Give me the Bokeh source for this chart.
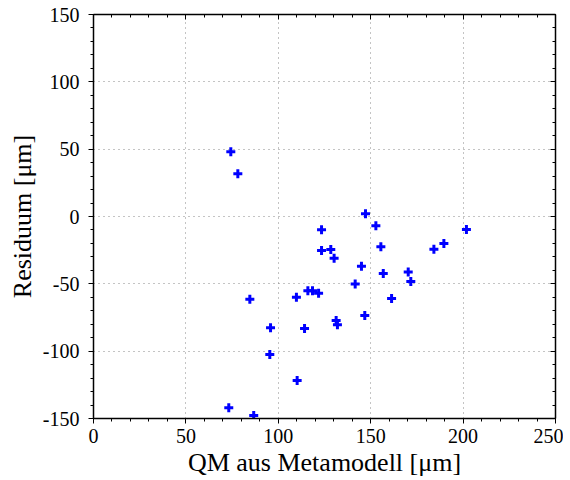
from bokeh.plotting import figure
from bokeh.models import LinearAxis, Range1d, FixedTicker, CustomJSTickFormatter
from bokeh.embed import file_html
from bokeh.resources import INLINE

# Data
x_vals = [74.3, 78.1, 147.2, 152.8, 123.4, 201.8, 189.6, 184.2, 155.5, 123.4,
          128.4, 130.2, 145.0, 156.8, 170.3, 171.7, 141.6, 84.6, 109.8, 116.0,
          118.5, 121.8, 161.3, 146.8, 131.3, 132.0, 95.8, 114.2, 95.4, 110.2,
          73.2, 86.7]
y_vals = [48.0, 31.7, 2.0, -6.9, -9.9, -9.7, -20.0, -24.3, -22.5, -25.2,
          -24.5, -31.0, -36.9, -42.3, -41.3, -48.3, -50.2, -61.4, -59.9, -55.2,
          -55.2, -56.9, -60.9, -73.5, -77.2, -80.4, -82.7, -83.2, -102.5, -121.8,
          -142.1, -147.8]

x_ticks = [0, 50, 100, 150, 200, 250]
y_ticks = [-150, -100, -50, 0, 50, 100, 150]
x_minor = list(range(0, 251, 10))
y_minor = list(range(-150, 151, 10))

FONT = "Liberation Serif"

p = figure(width=566, height=468, output_backend="svg", toolbar_location=None,
           x_range=Range1d(0, 250), y_range=Range1d(-150, 150),
           frame_width=462, frame_height=404,
           min_border_left=93, min_border_right=8, min_border_top=14, min_border_bottom=5)
p.outline_line_color = None
p.background_fill_color = "white"
p.border_fill_color = "white"

p.scatter(x_vals, y_vals, marker="cross", size=9, line_width=3, color="#0000ff")

fmt = CustomJSTickFormatter(code="return tick < 0 ? '-' + Math.abs(tick) : '' + tick;")
empty = CustomJSTickFormatter(code="return '';")

for ax, ticks, minor in [(p.xaxis[0], x_ticks, x_minor), (p.yaxis[0], y_ticks, y_minor)]:
    ax.ticker = FixedTicker(ticks=ticks, minor_ticks=minor)
    ax.formatter = fmt
    ax.major_label_text_font = FONT
    ax.major_label_text_font_size = "20px"
    ax.major_label_text_color = "black"
    ax.axis_label_text_font = FONT
    ax.axis_label_text_font_size = "26px"
    ax.axis_label_text_font_style = "normal"
    ax.axis_label_text_color = "black"
    ax.axis_line_width = 1.5
    ax.axis_line_color = "black"
    ax.major_tick_in = 0
    ax.major_tick_out = 5
    ax.minor_tick_in = 0
    ax.minor_tick_out = 3
    ax.major_tick_line_color = "black"
    ax.minor_tick_line_color = "black"

p.xaxis.major_label_standoff = 5
p.yaxis.major_label_standoff = 9
p.xaxis.axis_label = "QM aus Metamodell [μm]"
p.yaxis.axis_label = "Residuum [μm]"
p.xaxis.axis_label_standoff = 2
p.yaxis.axis_label_standoff = 3

top = LinearAxis(ticker=FixedTicker(ticks=x_ticks, minor_ticks=x_minor), formatter=empty)
right = LinearAxis(ticker=FixedTicker(ticks=y_ticks, minor_ticks=y_minor), formatter=empty)
for ax in (top, right):
    ax.major_tick_in = 5
    ax.major_tick_out = 0
    ax.minor_tick_in = 3
    ax.minor_tick_out = 0
    ax.major_label_text_font_size = "0px"
    ax.major_label_standoff = 0
    ax.axis_line_width = 1.5
    ax.axis_line_color = "black"
p.add_layout(top, "above")
p.add_layout(right, "right")

for g in (p.xgrid[0], p.ygrid[0]):
    g.grid_line_color = "#888888"
    g.grid_line_dash = "1 4"
    g.grid_line_width = 1
p.xgrid[0].ticker = FixedTicker(ticks=x_ticks)
p.ygrid[0].ticker = FixedTicker(ticks=y_ticks)

open("out.html", "w").write(file_html(p, INLINE))
